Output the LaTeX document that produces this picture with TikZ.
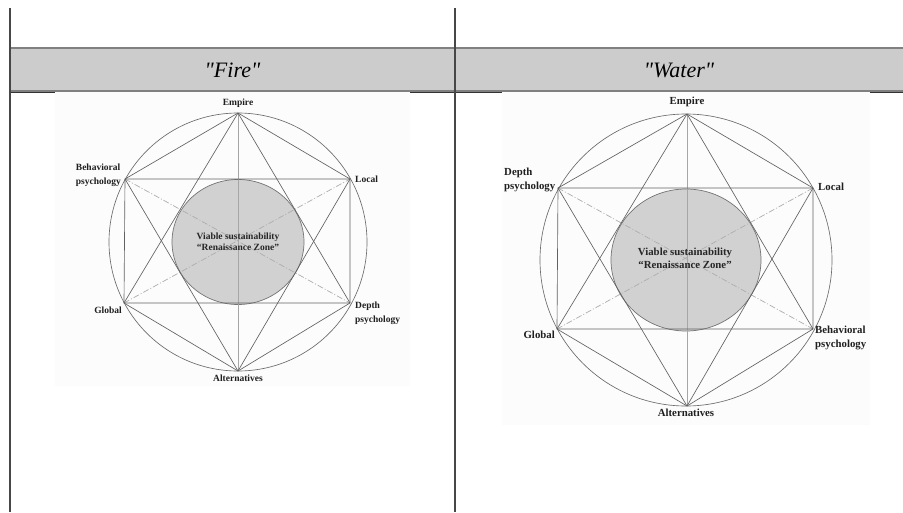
\documentclass[tikz,border=0pt]{standalone}
\usepackage{fontspec}
\setmainfont{Liberation Serif}
\newfontfamily\titlefont{Liberation Serif}
\begin{document}
\begin{tikzpicture}[x=1pt,y=-1pt]
\tikzset{
  cellborder/.style={draw=black!72, line width=2pt},
  bandfill/.style={fill=black!20},
  bandline/.style={draw=black!50, line width=1.6pt},
  darkseg/.style={draw=black!80, line width=1pt},
  photo/.style={fill=black!1},
  edgeline/.style={draw=black!62, line width=0.65pt, line join=round},
  outerc/.style={draw=black!58, line width=0.65pt},
  axisline/.style={draw=black!35, line width=0.5pt},
  diagline/.style={draw=black!32, line width=0.7pt, dash pattern=on 6pt off 2pt on 1pt off 2pt},
  zone/.style={fill=black!18, draw=black!55, line width=0.7pt},
  titletext/.style={font=\titlefont\itshape\fontsize{22}{22}\selectfont, inner sep=0pt, anchor=base},
  lblL/.style={font=\bfseries\fontsize{9.5}{14}\selectfont, text=black!88, inner sep=0pt, align=left},
  lblR/.style={font=\bfseries\fontsize{10.8}{14}\selectfont, text=black!88, inner sep=0pt, align=left},
  zoneL/.style={font=\bfseries\fontsize{9.5}{11}\selectfont, text=black!85, inner sep=0pt, align=center},
  zoneR/.style={font=\bfseries\fontsize{10.8}{13}\selectfont, text=black!85, inner sep=0pt, align=center}
}
\useasboundingbox (0,0) rectangle (903,512);
\fill[white] (0,0) rectangle (903,512);

% header band
\fill[bandfill] (10,48) rectangle (903,91);
\draw[bandline] (10,48) -- (903,48);
\draw[bandline] (10,91) -- (903,91);

% picture backgrounds
\fill[photo] (55,92) rectangle (410,386);
\fill[photo] (502,92) rectangle (870,425);
\draw[darkseg] (10,92.5) -- (55,92.5);
\draw[darkseg] (410,92.5) -- (502,92.5);
\draw[darkseg] (870,92.5) -- (903,92.5);

% cell borders
\draw[cellborder] (10,8) -- (10,512);
\draw[cellborder] (455,8) -- (455,512);

% titles
\node[titletext] (tfire) at (232.5,77) {"Fire"};
\node[titletext] (twater) at (679,77) {"Water"};

% ---------- left diagram ----------
\coordinate (Lc) at (238,242);
\coordinate (LE) at (238,113);
\coordinate (LA) at (238,371);
\coordinate (LB) at (125,179);
\coordinate (LL) at (350,179);
\coordinate (LG) at (124,303);
\coordinate (LD) at (350,303);
\draw[zone] (Lc) ellipse[x radius=66, y radius=62.5];
\draw[outerc] (Lc) circle[radius=129];
\draw[axisline] (LE) -- (LA);
\draw[diagline] (LB) -- (LD);
\draw[diagline] (LG) -- (LL);
\draw[edgeline] (LE) -- (LB) -- (LG) -- (LA) -- (LD) -- (LL) -- cycle;
\draw[edgeline] (LE) -- (LG) -- (LD) -- cycle;
\draw[edgeline] (LA) -- (LB) -- (LL) -- cycle;
\node[zoneL] (Lzone) at (238,241.5) {Viable sustainability\\“Renaissance Zone”};
\node[lblL] (LEt) at (238,103) {Empire};
\node[lblL] (LAt) at (238,378) {Alternatives};
\node[lblL, anchor=east] (LBt) at (121,175) {Behavioral\\psychology};
\node[lblL, anchor=west] (LLt) at (355,179) {Local};
\node[lblL, anchor=east] (LGt) at (122,310) {Global};
\node[lblL, anchor=west] (LDt) at (355,313) {Depth\\psychology};

% ---------- right diagram ----------
\coordinate (Rc) at (686,260);
\coordinate (RE) at (687,114);
\coordinate (RA) at (687,406);
\coordinate (RD) at (558,188);
\coordinate (RL) at (813,188);
\coordinate (RG) at (557,329);
\coordinate (RB) at (813,329);
\draw[zone] (Rc) ellipse[x radius=75, y radius=71];
\draw[outerc] (Rc) circle[radius=146];
\draw[axisline] (RE) -- (RA);
\draw[diagline] (RD) -- (RB);
\draw[diagline] (RG) -- (RL);
\draw[edgeline] (RE) -- (RD) -- (RG) -- (RA) -- (RB) -- (RL) -- cycle;
\draw[edgeline] (RE) -- (RG) -- (RB) -- cycle;
\draw[edgeline] (RA) -- (RD) -- (RL) -- cycle;
\node[zoneR] (Rzone) at (685,258.5) {Viable sustainability\\“Renaissance Zone”};
\node[lblR] (REt) at (687,102) {Empire};
\node[lblR] (RAt) at (686,413) {Alternatives};
\node[lblR, anchor=west] (RDt) at (504,180) {Depth\\psychology};
\node[lblR, anchor=west] (RLt) at (818,187) {Local};
\node[lblR, anchor=east] (RGt) at (555,335) {Global};
\node[lblR, anchor=west] (RBt) at (815,337.5) {Behavioral\\psychology};
\end{tikzpicture}
\end{document}
